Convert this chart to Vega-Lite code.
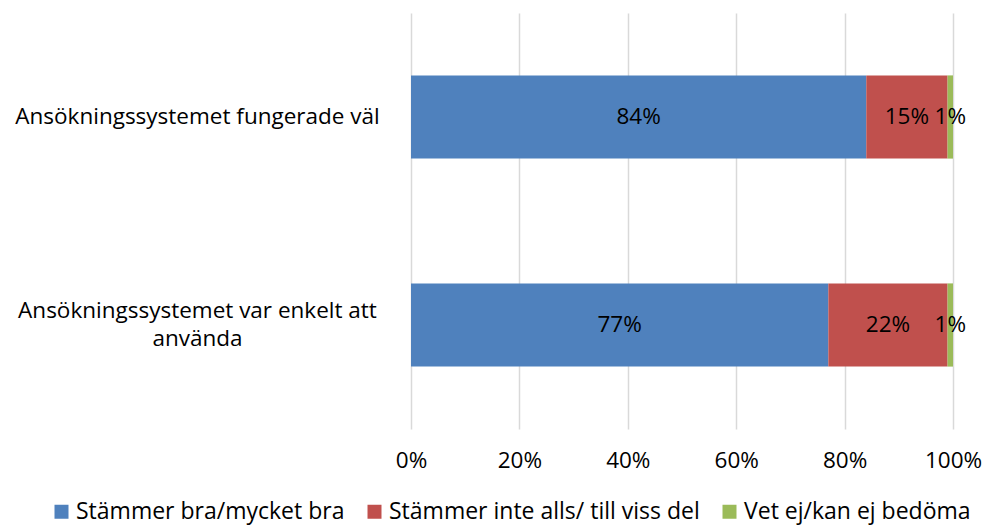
{
  "$schema": "https://vega.github.io/schema/vega-lite/v6.json",
  "width": 542,
  "height": 416,
  "autosize": {"type": "none"},
  "padding": {"left": 411, "top": 13, "right": 32, "bottom": 101},
  "background": "white",
  "config": {
    "view": {"stroke": null},
    "font": "Open Sans",
    "text": {"font": "Open Sans"}
  },
  "data": {
    "values": [
      {"item": "Ansökningssystemet fungerade väl", "series": "Stämmer bra/mycket bra", "value": 0.84},
      {"item": "Ansökningssystemet fungerade väl", "series": "Stämmer inte alls/ till viss del", "value": 0.15},
      {"item": "Ansökningssystemet fungerade väl", "series": "Vet ej/kan ej bedöma", "value": 0.01},
      {"item": "Ansökningssystemet var enkelt att använda", "series": "Stämmer bra/mycket bra", "value": 0.77},
      {"item": "Ansökningssystemet var enkelt att använda", "series": "Stämmer inte alls/ till viss del", "value": 0.22},
      {"item": "Ansökningssystemet var enkelt att använda", "series": "Vet ej/kan ej bedöma", "value": 0.01}
    ]
  },
  "encoding": {
    "y": {
      "field": "item",
      "type": "nominal",
      "sort": null,
      "scale": {"paddingInner": 0.6, "paddingOuter": 0.3},
      "axis": {
        "title": null,
        "domain": false,
        "ticks": false,
        "labelAlign": "center",
        "labelPadding": 214,
        "labelFontSize": 22.5,
        "labelColor": "#000000",
        "labelLimit": 500,
        "labelLineHeight": 28,
        "labelOffset": {"condition": {"test": "datum.value == 'Ansökningssystemet var enkelt att använda'", "value": -14}, "value": 0},
        "labelExpr": "datum.value == 'Ansökningssystemet var enkelt att använda' ? ['Ansökningssystemet var enkelt att', 'använda'] : datum.value"
      }
    },
    "order": {"field": "series", "sort": "ascending"}
  },
  "layer": [
    {
      "mark": {"type": "bar"},
      "encoding": {
        "x": {
          "field": "value",
          "type": "quantitative",
          "stack": "zero",
          "scale": {"domain": [0, 1], "nice": false},
          "axis": {
            "title": null,
            "values": [0, 0.2, 0.4, 0.6, 0.8, 1],
            "format": ".0%",
            "domain": false,
            "ticks": false,
            "grid": true,
            "gridColor": "#D9D9D9",
            "gridWidth": 1.5,
            "labelFontSize": 22.5,
            "labelColor": "#000000",
            "labelPadding": 20,
            "labelFlush": false
          }
        },
        "color": {
          "field": "series",
          "type": "nominal",
          "scale": {
            "domain": ["Stämmer bra/mycket bra", "Stämmer inte alls/ till viss del", "Vet ej/kan ej bedöma"],
            "range": ["#4F81BD", "#C0504D", "#9BBB59"]
          },
          "legend": {
            "title": null,
            "orient": "none",
            "direction": "horizontal",
            "legendX": -361,
            "legendY": 487,
            "symbolType": "square",
            "symbolSize": 196,
            "symbolStrokeWidth": 0,
            "symbolOpacity": 1,
            "labelFontSize": 23,
            "labelColor": "#000000",
            "labelLimit": 500,
            "labelOffset": 3,
            "columnPadding": 18
          }
        }
      }
    },
    {
      "mark": {"type": "text", "fontSize": 22.5, "color": "#000000", "align": "center", "baseline": "middle"},
      "encoding": {
        "x": {"field": "value", "type": "quantitative", "stack": "zero", "bandPosition": 0.5},
        "detail": {"field": "series"},
        "text": {"field": "value", "type": "quantitative", "format": ".0%"}
      }
    }
  ]
}
